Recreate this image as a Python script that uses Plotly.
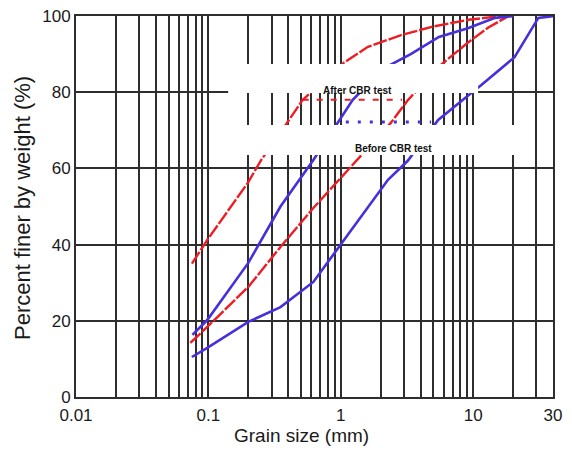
import plotly.graph_objects as go

# ---- data (grain size in mm, percent finer) ----
after_a_x = [0.075, 0.098, 0.2, 0.248, 0.383, 0.515, 0.75, 1.05, 1.6, 2.85, 5.07, 9.2, 16.3, 20]
after_a_y = [35, 41.2, 56.4, 62, 71.4, 78, 83, 87.7, 91.9, 95, 97.3, 99, 100, 100]

before_a_x = [0.0757, 0.098, 0.2, 0.35, 0.62, 0.966, 1.23, 1.7, 2.31, 3.37, 5.5, 9.1, 14.6, 20]
before_a_y = [16.3, 20.2, 35.2, 50, 62.2, 72.2, 78, 83, 87, 90, 94.5, 96.8, 99.5, 100]

after_b_x = [0.073, 0.098, 0.2, 0.35, 0.62, 1.19, 2.39, 3.22, 4.4, 5.7, 9.1, 13, 18.5, 20]
after_b_y = [14.2, 18.4, 28.9, 39.4, 49.6, 60.4, 72, 78, 83, 87.2, 93, 97, 100, 100]

before_b_x = [0.075, 0.098, 0.2, 0.35, 0.62, 1.0, 2.27, 3.2, 5.43, 9.66, 11.5, 20.5, 31, 41]
before_b_y = [10.5, 12.9, 19.7, 23.6, 30.2, 40, 57, 62, 72.7, 79.8, 81.9, 89.2, 99.5, 100]

# remnants of the legend sample lines
after_key_x = [0.515, 2.9]
after_key_y = [78, 78]
before_key_x = [1.09, 4.8]
before_key_y = [72.2, 72.2]

x_grid_vals = ([k * 0.01 for k in range(1, 10)] + [k * 0.1 for k in range(1, 10)]
               + [k * 1.0 for k in range(1, 10)] + [10, 20, 30, 40])
x_tick_labels = {0.01: "0.01", 0.1: "0.1", 1.0: "1", 10: "10", 40: "30"}
y_ticks = [0, 20, 40, 60, 80, 100]

x_title = "Grain size (mm)"
y_title = "Percent finer by weight (%)"

RED = "#ee1c24"
BLUE = "#4530dc"

fig = go.Figure()
fig.add_trace(go.Scatter(x=after_a_x, y=after_a_y, mode="lines",
                         line=dict(color=RED, width=2.4, dash="14px,2px")))
fig.add_trace(go.Scatter(x=after_b_x, y=after_b_y, mode="lines",
                         line=dict(color=RED, width=2.4, dash="14px,2px")))
fig.add_trace(go.Scatter(x=before_a_x, y=before_a_y, mode="lines",
                         line=dict(color=BLUE, width=2.6)))
fig.add_trace(go.Scatter(x=before_b_x, y=before_b_y, mode="lines",
                         line=dict(color=BLUE, width=2.6)))
fig.add_trace(go.Scatter(x=after_key_x, y=after_key_y, mode="lines",
                         line=dict(color=RED, width=2, dash="6px,8px")))
fig.add_trace(go.Scatter(x=before_key_x, y=before_key_y, mode="lines",
                         line=dict(color=BLUE, width=3, dash="3px,9px")))

ticktext = [x_tick_labels.get(round(v, 4), "") for v in x_grid_vals]

# the page body adds an 8px offset, so the figure is 8px smaller on each axis
fig.update_layout(
    width=564, height=442,
    margin=dict(l=68, r=19, t=8, b=53),
    paper_bgcolor="white", plot_bgcolor="white",
    showlegend=False,
    font=dict(family="Liberation Sans, Arial, sans-serif", color="#1a1a1a"),
    xaxis=dict(
        type="log", range=[-2, 1.602], automargin=False,
        tickmode="array", tickvals=x_grid_vals, ticktext=ticktext,
        showgrid=True, gridcolor="#2e2e2e", gridwidth=2.2,
        showline=True, linecolor="#2e2e2e", linewidth=2, mirror=True,
        ticks="", tickfont=dict(size=17, color="#1a1a1a"), ticklabelstandoff=2,
        ticklabeloverflow="allow",
        zeroline=False,
    ),
    yaxis=dict(
        range=[0, 100], tickmode="array", tickvals=y_ticks, automargin=False,
        showgrid=True, gridcolor="#2e2e2e", gridwidth=2.2,
        showline=True, linecolor="#2e2e2e", linewidth=2, mirror=True,
        ticks="", tickfont=dict(size=17, color="#1a1a1a"), ticklabeloverflow="allow",
        zeroline=False,
    ),
)

# axis titles
fig.add_annotation(xref="paper", yref="paper", x=(301 - 76) / 477, y=0,
                   yanchor="top", yshift=-26, text=x_title, showarrow=False,
                   font=dict(size=19, color="#1a1a1a"))
fig.add_annotation(xref="paper", yref="paper", x=(22 - 76) / 477, y=(397 - 208) / 381,
                   xanchor="center", yanchor="middle", textangle=-90, text=y_title,
                   showarrow=False, font=dict(size=22, color="#1a1a1a"))

# white label boxes covering part of the plot
fig.add_shape(type="rect", xref="paper", yref="paper", x0=0.319, x1=0.843, y0=0.798, y1=0.874,
              fillcolor="white", line=dict(width=0), layer="above")
fig.add_shape(type="rect", xref="paper", yref="paper", x0=0.319, x1=0.920, y0=0.635, y1=0.714,
              fillcolor="white", line=dict(width=0), layer="above")

fig.add_annotation(xref="paper", yref="paper", x=(357 - 76) / 477, y=(397 - 83) / 381,
                   text="<b>After CBR test</b>", showarrow=False,
                   font=dict(size=10, color="#111", family="Liberation Sans, Arial"))
fig.add_annotation(xref="paper", yref="paper", x=(393 - 76) / 477, y=(397 - 141) / 381,
                   text="<b>Before CBR test</b>", showarrow=False,
                   font=dict(size=10, color="#111", family="Liberation Sans, Arial"))

fig.write_html("out.html")
